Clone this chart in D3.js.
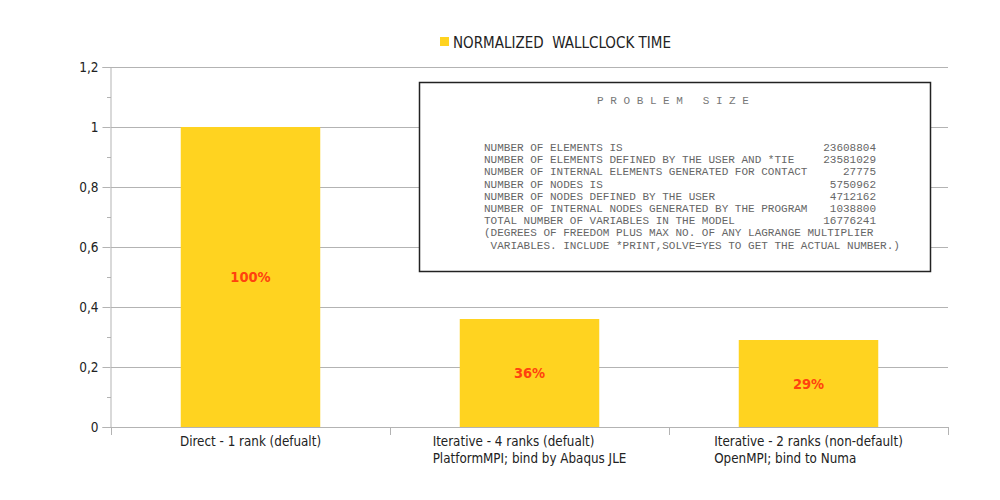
<!DOCTYPE html>
<html><head><meta charset="utf-8">
<script src="https://cdn.jsdelivr.net/npm/d3@7"></script>
<style>body{margin:0;background:#fff}svg{display:block}</style>
</head><body>
<svg id="c" width="1000" height="500"></svg>
<script>
const categories = [
  ["Direct - 1 rank (defualt)"],
  ["Iterative - 4 ranks (defualt)", "PlatformMPI; bind by Abaqus JLE"],
  ["Iterative - 2 ranks (non-default)", "OpenMPI; bind to Numa"]
];
const values = [1.0, 0.36, 0.29];
const valueLabels = ["100%", "36%", "29%"];
const yTicks = [0, 0.2, 0.4, 0.6, 0.8, 1, 1.2];
const yMinorTicks = [0.1, 0.3, 0.5, 0.7, 0.9, 1.1];
const seriesName = "NORMALIZED  WALLCLOCK TIME";
const boxTitle = "P R O B L E M   S I Z E";
const boxRows = [
  ["NUMBER OF ELEMENTS IS", "23608804"],
  ["NUMBER OF ELEMENTS DEFINED BY THE USER AND *TIE", "23581029"],
  ["NUMBER OF INTERNAL ELEMENTS GENERATED FOR CONTACT", "27775"],
  ["NUMBER OF NODES IS", "5750962"],
  ["NUMBER OF NODES DEFINED BY THE USER", "4712162"],
  ["NUMBER OF INTERNAL NODES GENERATED BY THE PROGRAM", "1038800"],
  ["TOTAL NUMBER OF VARIABLES IN THE MODEL", "16776241"]
];
const boxNote = [
  "(DEGREES OF FREEDOM PLUS MAX NO. OF ANY LAGRANGE MULTIPLIER",
  " VARIABLES. INCLUDE *PRINT,SOLVE=YES TO GET THE ACTUAL NUMBER.)"
];

const svg = d3.select("#c");
const font = "'DejaVu Sans Condensed','DejaVu Sans',sans-serif";
const L = 111, R = 948, T = 67, B = 427;
const x = d3.scaleBand().domain(d3.range(categories.length)).range([L, R]).paddingInner(0.5).paddingOuter(0.25);
const y = d3.scaleLinear().domain([0, 1.2]).range([B, T]);
const fmt = v => d3.format(".1~f")(v).replace(".", ",");

// gridlines
svg.append("g").selectAll("line").data(yTicks.filter(d => d > 0)).join("line")
  .attr("x1", L).attr("x2", R).attr("y1", d => Math.round(y(d)) + 0.5).attr("y2", d => Math.round(y(d)) + 0.5)
  .attr("stroke", "#b3b3b3").attr("stroke-width", 1);

// bars
svg.append("g").selectAll("rect").data(values).join("rect")
  .attr("x", (d, i) => x(i)).attr("width", x.bandwidth())
  .attr("y", d => y(d)).attr("height", d => B - y(d))
  .attr("fill", "#ffd320");

// y axis
const yAxis = svg.append("g").attr("transform", `translate(${L - 0.5},0)`)
  .call(d3.axisLeft(y).tickValues(yTicks).tickFormat(fmt).tickSize(8).tickPadding(4));
yAxis.select(".domain").attr("stroke", "#b3b3b3");
yAxis.selectAll(".tick line").attr("stroke", "#b3b3b3");
yAxis.selectAll("text").attr("font-family", font).attr("font-size", 13.5).attr("fill", "#222");
svg.append("g").selectAll("line").data(yMinorTicks).join("line")
  .attr("x1", L - 4).attr("x2", L).attr("y1", d => Math.round(y(d)) + 0.5).attr("y2", d => Math.round(y(d)) + 0.5)
  .attr("stroke", "#b3b3b3");

// x axis baseline and separator ticks
svg.append("line").attr("x1", L).attr("x2", R).attr("y1", B + 0.5).attr("y2", B + 0.5).attr("stroke", "#b3b3b3");
const step = x.step();
svg.append("g").selectAll("line").data(d3.range(categories.length + 1)).join("line")
  .attr("x1", i => L + i * step + 0.5).attr("x2", i => L + i * step + 0.5)
  .attr("y1", B).attr("y2", B + 8).attr("stroke", "#b3b3b3");

// category labels
categories.forEach((lines, i) => {
  const cx = x(i) + x.bandwidth() / 2;
  const g = svg.append("text").attr("font-family", font).attr("font-size", 13.3).attr("fill", "#222")
    .attr("y", 446);
  lines.forEach((ln, j) => g.append("tspan").attr("x", cx).attr("dy", j ? 17 : 0).text(ln));
  const bb = g.node().getBBox();
  g.selectAll("tspan").attr("x", cx - bb.width / 2);
});

// value labels
svg.append("g").selectAll("text").data(values).join("text")
  .attr("x", (d, i) => x(i) + x.bandwidth() / 2)
  .attr("y", d => (y(d) + B) / 2 + 5)
  .attr("text-anchor", "middle").attr("font-family", font).attr("font-weight", "bold")
  .attr("font-size", 14.5).attr("fill", "#ff420e")
  .text((d, i) => valueLabels[i]);

// legend
svg.append("rect").attr("x", 440).attr("y", 37).attr("width", 9).attr("height", 9).attr("fill", "#ffd320");
svg.append("text").attr("x", 453).attr("y", 47.5).attr("font-family", font).attr("font-size", 15)
  .attr("fill", "#222").style("white-space", "pre").text(seriesName);

// problem size box
svg.append("rect").attr("x", 419.5).attr("y", 82.5).attr("width", 511).attr("height", 189)
  .attr("fill", "#fff").attr("stroke", "#222").attr("stroke-width", 1.5);
const mono = "'Liberation Mono','DejaVu Sans Mono',monospace";
svg.append("text").attr("x", 673).attr("y", 104).attr("text-anchor", "middle")
  .attr("font-family", mono).attr("font-size", 11).attr("fill", "#777")
  .style("white-space", "pre").text(boxTitle);
boxRows.forEach((r, i) => {
  const yy = 151 + i * 12.2;
  svg.append("text").attr("x", 484).attr("y", yy).attr("font-family", mono).attr("font-size", 11)
    .attr("fill", "#666").style("white-space", "pre").text(r[0]);
  svg.append("text").attr("x", 876).attr("y", yy).attr("text-anchor", "end").attr("font-family", mono)
    .attr("font-size", 11).attr("fill", "#666").text(r[1]);
});
boxNote.forEach((t, i) => {
  svg.append("text").attr("x", 484).attr("y", 151 + (boxRows.length + i) * 12.2)
    .attr("font-family", mono).attr("font-size", 11).attr("fill", "#666")
    .style("white-space", "pre").text(t);
});
</script>
</body></html>
